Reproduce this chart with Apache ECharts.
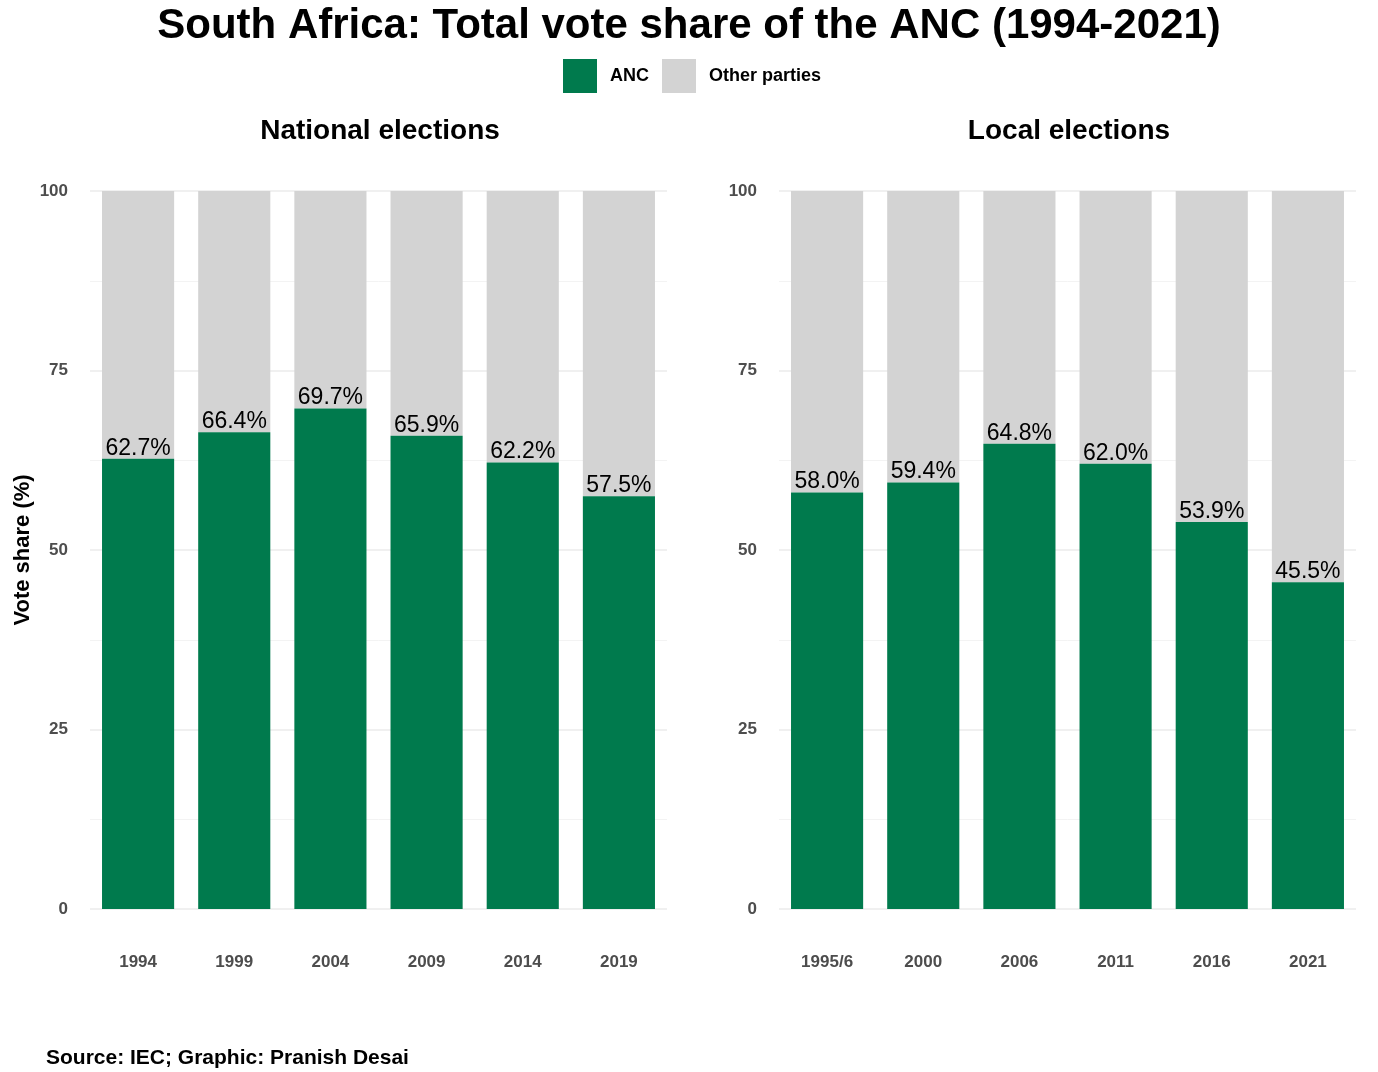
<!DOCTYPE html>
<html>
<head>
<meta charset="utf-8">
<script src="https://cdn.jsdelivr.net/npm/echarts@6/dist/echarts.min.js"></script>
<style>
  html, body { margin: 0; padding: 0; background: #fff; }
  #chart { width: 1378px; height: 1072px; }
</style>
</head>
<body>
<div id="chart"></div>
<script>
// national elections
var nationalYears = ['1994', '1999', '2004', '2009', '2014', '2019']
var nationalAnc = [62.7, 66.4, 69.7, 65.9, 62.2, 57.5]
var nationalOther = [37.3, 33.6, 30.3, 34.1, 37.8, 42.5]
// local elections
var localYears = ['1995/6', '2000', '2006', '2011', '2016', '2021']
var localAnc = [58.0, 59.4, 64.8, 62.0, 53.9, 45.5]
var localOther = [42.0, 40.6, 35.2, 38.0, 46.1, 54.5]
var yTicks = [0, 25, 50, 75, 100]

var green = '#007A4D'
var grey = '#D3D3D3'
var font = 'Liberation Sans'

var chart = echarts.init(document.getElementById('chart'))

function xAxisFor(idx, cats) {
  return {
    type: 'category',
    gridIndex: idx,
    data: cats,
    axisLine: { show: false },
    axisTick: { show: false },
    axisLabel: {
      margin: 45,
      fontFamily: font,
      fontWeight: 'bold',
      fontSize: 17,
      color: '#4d4d4d'
    }
  }
}

function yAxisFor(idx) {
  return {
    type: 'value',
    gridIndex: idx,
    min: yTicks[0],
    max: yTicks[yTicks.length - 1],
    interval: 25,
    axisLine: { show: false },
    axisTick: { show: false },
    axisLabel: {
      margin: 22,
      fontFamily: font,
      fontWeight: 'bold',
      fontSize: 17,
      color: '#4d4d4d'
    },
    splitLine: { lineStyle: { color: '#EBEBEB', width: 1.5 } },
    minorTick: { show: false, splitNumber: 2 },
    minorSplitLine: { show: true, lineStyle: { color: '#F3F3F3', width: 1 } },
    name: idx === 0 ? 'Vote share (%)' : '',
    nameLocation: 'middle',
    nameGap: 56,
    nameTextStyle: {
      fontFamily: font,
      fontWeight: 'bold',
      fontSize: 22,
      color: '#000'
    }
  }
}

function ancSeries(idx, vals) {
  return {
    name: 'ANC',
    type: 'bar',
    stack: 'tot' + idx,
    xAxisIndex: idx,
    yAxisIndex: idx,
    data: vals,
    barWidth: '75%',
    itemStyle: { color: green },
    label: {
      show: true,
      position: 'top',
      distance: -1,
      fontFamily: font,
      fontSize: 23,
      color: '#000',
      formatter: function(p) { return p.value.toFixed(1) + '%' }
    },
    emphasis: { disabled: true }
  }
}

function otherSeries(idx, vals) {
  return {
    name: 'Other parties',
    type: 'bar',
    stack: 'tot' + idx,
    xAxisIndex: idx,
    yAxisIndex: idx,
    data: vals,
    barWidth: '75%',
    itemStyle: { color: grey },
    z: 1,
    emphasis: { disabled: true }
  }
}

chart.setOption({
  backgroundColor: '#fff',
  animation: false,
  title: [{
    text: 'South Africa: Total vote share of the ANC (1994-2021)',
    left: 'center',
    top: 0,
    textStyle: { fontFamily: font, fontWeight: 'bold', fontSize: 42, color: '#000' }
  }, {
    text: 'National elections',
    left: 375,
    textAlign: 'center',
    top: 112,
    textStyle: { fontFamily: font, fontWeight: 'bold', fontSize: 28, color: '#000' }
  }, {
    text: 'Local elections',
    left: 1064,
    textAlign: 'center',
    top: 112,
    textStyle: { fontFamily: font, fontWeight: 'bold', fontSize: 28, color: '#000' }
  }, {
    text: 'Source: IEC; Graphic: Pranish Desai',
    left: 41,
    top: 1043,
    textStyle: { fontFamily: font, fontWeight: 'bold', fontSize: 21, color: '#000' }
  }],
  legend: {
    data: ['ANC', 'Other parties'],
    left: 558,
    top: 54,
    itemWidth: 34,
    itemHeight: 34,
    itemGap: 13,
    icon: 'rect',
    selectedMode: false,
    textStyle: {
      fontFamily: font,
      fontWeight: 'bold',
      fontSize: 18,
      color: '#000',
      padding: [0, 0, 0, 8]
    }
  },
  grid: [
    { left: 90, top: 191, width: 577, height: 718 },
    { left: 779, top: 191, width: 577, height: 718 }
  ],
  xAxis: [xAxisFor(0, nationalYears), xAxisFor(1, localYears)],
  yAxis: [yAxisFor(0), yAxisFor(1)],
  series: [
    ancSeries(0, nationalAnc),
    otherSeries(0, nationalOther),
    ancSeries(1, localAnc),
    otherSeries(1, localOther)
  ]
})
</script>
</body>
</html>
